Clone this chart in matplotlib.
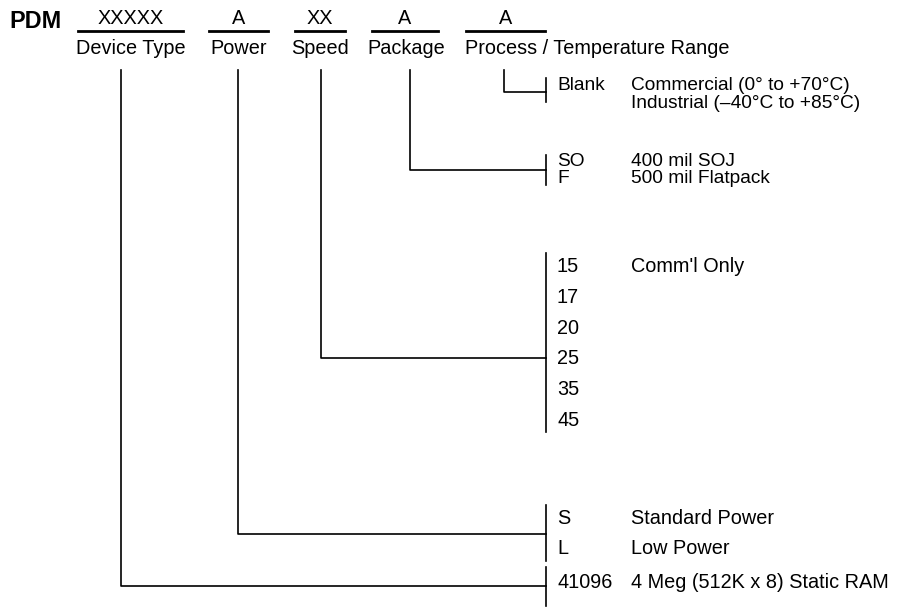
"""PDM41096 ordering information: part-number breakdown diagram."""

import matplotlib

matplotlib.use("Agg")
import matplotlib.pyplot as plt

plt.rcParams["font.family"] = ["Liberation Sans", "DejaVu Sans"]

PREFIX = "PDM"
FIELD_CODES = ["XXXXX", "A", "XX", "A", "A"]
FIELD_NAMES = ["Device Type", "Power", "Speed", "Package",
               "Process / Temperature Range"]

# options per field, listed top-to-bottom as drawn
PROCESS_CODES = ["Blank", ""]
PROCESS_DESC = ["Commercial (0° to +70°C)", "Industrial (–40°C to +85°C)"]
PACKAGE_CODES = ["SO", "F"]
PACKAGE_DESC = ["400 mil SOJ", "500 mil Flatpack"]
SPEED_CODES = ["15", "17", "20", "25", "35", "45"]
SPEED_DESC = ["Comm'l Only", "", "", "", "", ""]
POWER_CODES = ["S", "L"]
POWER_DESC = ["Standard Power", "Low Power"]
DEVICE_CODES = ["41096"]
DEVICE_DESC = ["4 Meg (512K x 8) Static RAM"]

# layout (pixel coordinates, y down)
UNDERLINES = [(78, 183), (209, 268), (295, 345), (372, 438), (466, 545)]
NAME_X = [131, 239, 320, 406, 465]
STEM_X = [121, 238, 321, 410, 504]
STEM_TOP = 70
BRACKET_X = 546
CODE_X = 557
DESC_X = 631

# (codes, descs, first row y, row step, bracket top, bracket bottom, join y)
GROUPS = [
    (DEVICE_CODES, DEVICE_DESC, 583, 0, 567, 606, 586),
    (POWER_CODES, POWER_DESC, 518, 31, 505, 561, 534),
    (SPEED_CODES, SPEED_DESC, 267, 30.6, 253, 432, 358),
    (PACKAGE_CODES, PACKAGE_DESC, 161, 17.5, 155, 185, 170),
    (PROCESS_CODES, PROCESS_DESC, 86, 17.5, 78, 102, 92),
]

FS = 14.3
FS_SMALL = 13.8
LW = 1.2

fig = plt.figure(figsize=(9.01, 6.07), dpi=100)
ax = fig.add_axes([0, 0, 1, 1])
ax.set_xlim(0, 901)
ax.set_ylim(607, 0)
ax.axis("off")

ax.text(9, 21, PREFIX, fontsize=16.8, fontweight="bold", va="center", ha="left")

for (x0, x1), code, name, nx in zip(UNDERLINES, FIELD_CODES, FIELD_NAMES, NAME_X):
    ax.plot([x0, x1], [31, 31], color="black", lw=2)
    ax.text((x0 + x1) / 2, 18, code, fontsize=FS, ha="center", va="center")
    ha = "left" if name.startswith("Process") else "center"
    ax.text(nx, 48, name, fontsize=FS, ha=ha, va="center")

for sx, (codes, descs, y0, dy, btop, bbot, jy) in zip(STEM_X, GROUPS):
    ax.plot([sx, sx, BRACKET_X], [STEM_TOP, jy, jy], color="black", lw=LW)
    ax.plot([BRACKET_X, BRACKET_X], [btop, bbot], color="black", lw=LW)
    # two-line groups are set tightly, slightly smaller
    fs = FS_SMALL if 0 < dy < 20 else FS
    for i, (c, d) in enumerate(zip(codes, descs)):
        y = y0 + i * dy
        if c:
            ax.text(CODE_X, y, c, fontsize=fs, ha="left", va="center")
        if d:
            ax.text(DESC_X, y, d, fontsize=fs, ha="left", va="center")

fig.savefig("out.png", dpi=100)
